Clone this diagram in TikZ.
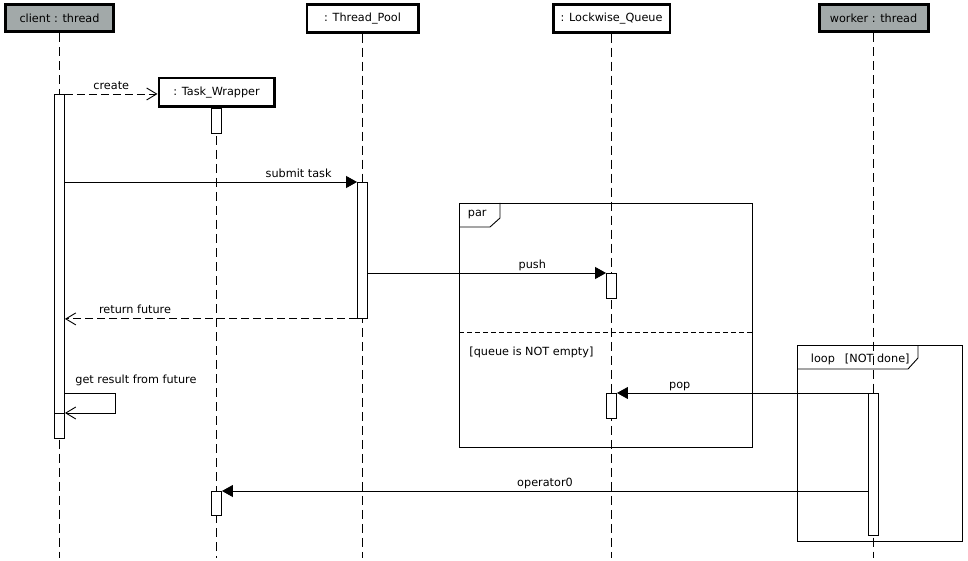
\documentclass[tikz,border=0pt]{standalone}
\usepackage{fontspec}
\newfontfamily\diafont{DejaVu Sans}
\usepackage{xcolor}
\usetikzlibrary{calc,positioning,arrows.meta}
\definecolor{hdrgray}{RGB}{162,169,169}

\begin{document}
\begin{tikzpicture}[
    x=1pt, y=-1pt,
    font=\diafont\fontsize{11.25}{13}\selectfont,
    line width=0.9pt,
    thr/.style={draw=black, rectangle, line width=3pt, fill=hdrgray,
                minimum height=27pt, inner sep=0pt},
    obj/.style={draw=black, rectangle, line width=2.5pt, fill=white,
                minimum height=28pt, inner sep=0pt},
    act/.style={draw=black, rectangle, fill=white, minimum width=10pt,
                inner sep=0pt, anchor=north},
    life/.style={dash pattern=on 9pt off 5pt},
    msg/.style={-{Triangle[length=11pt,width=12pt]}},
    ret/.style={dash pattern=on 8pt off 4pt, -{Straight Barb[length=10pt,width=12pt]}},
    selfmsg/.style={-{Straight Barb[length=10pt,width=12pt]}},
    frm/.style={draw=black, rectangle, inner sep=0pt, anchor=north west},
    lbl/.style={inner sep=1.5pt, text depth=3pt}
  ]
    \useasboundingbox (0,0) rectangle (968,561);

    % lifeline heads
    \node[thr, minimum width=108pt] (client) at (59.5,18.5) {client : thread};
    \node[obj, minimum width=111.5pt] (pool) at (362.5,18.5) {: Thread\_Pool};
    \node[obj, minimum width=116.5pt] (queue) at (611.5,18.5) {: Lockwise\_Queue};
    \node[thr, minimum width=109pt] (worker) at (873.5,18.5) {worker : thread};
    \node[obj, minimum width=115.5pt, minimum height=28.5pt] (tw) at (216.5,92.5) {: Task\_Wrapper};

    \foreach \n in {client,tw,pool,queue,worker}
      \draw[life] (\n.south) -- (\n.south |- 0,558);

    % combined fragments
    \node[frm, minimum width=293pt, minimum height=244pt] (par) at (459,203) {};
    \draw (par.north west) ++(41,0) -- ++(0,15) -- ++(-10,9) -- ++(-31,0);
    \node[lbl, anchor=base west] (partxt) at ([xshift=7pt,yshift=-14pt]par.north west) {par};
    \draw[dash pattern=on 5pt off 3pt] ([yshift=-129pt]par.north west) -- ([yshift=-129pt]par.north east);
    \node[lbl, anchor=base west] (guard) at ([xshift=8.5pt,yshift=-152pt]par.north west)
      {[queue is NOT empty]};

    \node[frm, minimum width=165pt, minimum height=196pt] (loop) at (797,345) {};
    \draw (loop.north west) ++(121,0) -- ++(0,13) -- ++(-10,11) -- ++(-111,0);
    \node[lbl, anchor=base west] (looptxt) at ([xshift=12pt,yshift=-17pt]loop.north west)
      {loop\hspace{10pt}[NOT done]};

    % activations
    \node[act, minimum height=344pt] (actC1) at (client |- 0,94) {};
    \node[act, minimum height=25pt] (actC2) at (client |- 0,413) {};
    \node[act, minimum height=25pt] (actT1) at (tw |- 0,108) {};
    \node[act, minimum height=24pt] (actT2) at (tw |- 0,491) {};
    \node[act, minimum height=136pt] (actP) at (pool |- 0,182) {};
    \node[act, minimum height=25pt] (actQ1) at (queue |- 0,273) {};
    \node[act, minimum height=25pt] (actQ2) at (queue |- 0,393) {};
    \node[act, minimum height=142pt] (actW) at (worker |- 0,393) {};

    % messages
    \draw[ret] (actC1.north east) -- (actC1.north east -| tw.west)
      node[lbl, midway, above] (lcreate) {create};
    \draw[msg] (actC1.east |- actP.north) -- (actP.north west)
      node[lbl, pos=0.8, above] (lsubmit) {submit task};
    \draw[msg] (actP.east |- actQ1.north) -- (actQ1.north west)
      node[lbl, pos=0.69, above] (lpush) {push};
    \draw[ret] (actP.south west) -- (actC1.east |- actP.south west)
      node[lbl, pos=0.76, above] (lreturn) {return future};
    \draw[selfmsg] ([yshift=20pt]actC2.north east) -- ++(50,0) -- ++(0,20) -- (actC2.north east);
    \node[lbl, anchor=base west] (lget) at ([xshift=8.5pt,yshift=30pt]actC2.north east)
      {get result from future};
    \draw[msg] (actW.north west) -- (actQ2.north east)
      node[lbl, pos=0.75, above] (lpop) {pop};
    \draw[msg] (actW.west |- actT2.north) -- (actT2.north east)
      node[lbl, midway, above] (loper) {operator0};
  \end{tikzpicture}
\end{document}
